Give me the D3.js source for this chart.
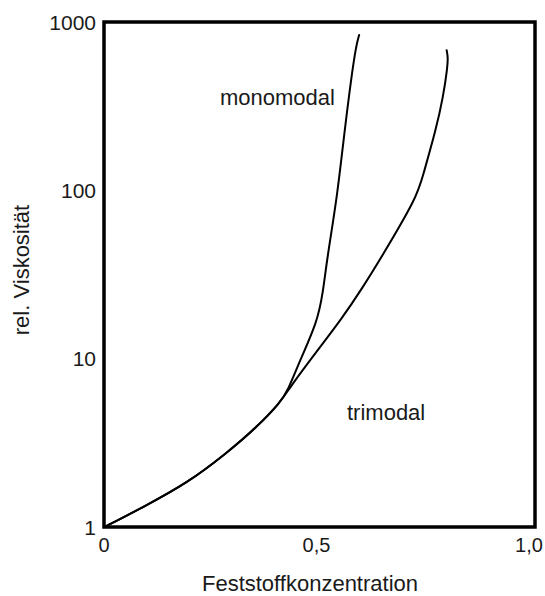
<!DOCTYPE html>
<html>
<head>
<meta charset="utf-8">
<script src="https://cdn.jsdelivr.net/npm/d3@7"></script>
<style>
  body { margin: 0; background: #fff; }
  text { font-family: "Liberation Sans", Arial, sans-serif; fill: #1a1a1a; }
</style>
</head>
<body>
<svg id="chart"></svg>
<script>
// Data (Feststoffkonzentration vs. rel. Viskosität)
const monomodalConc = [0, 0.021, 0.09, 0.193, 0.285, 0.355, 0.408, 0.427, 0.455, 0.494, 0.508, 0.517, 0.541, 0.557, 0.582, 0.592];
const monomodalVisc = [1, 1.06, 1.31, 1.82, 2.75, 3.93, 5.45, 6.5, 9.8, 16.3, 24.5, 38.6, 91, 215, 682, 837];
const trimodalConc = [0, 0.021, 0.09, 0.193, 0.285, 0.355, 0.408, 0.427, 0.478, 0.555, 0.601, 0.64, 0.726, 0.739, 0.77, 0.787, 0.797, 0.798, 0.795];
const trimodalVisc = [1, 1.06, 1.31, 1.82, 2.75, 3.93, 5.45, 6.5, 9.8, 17.7, 26.7, 38.6, 91, 120, 228, 360, 540, 620, 680];

const xTicks = [0, 0.5, 1.0];
const xTickLabels = ['0', '0,5', '1,0'];
const yTicks = [1, 10, 100, 1000];

const width = 545;
const height = 596;
const margin = { top: 22, right: 10, bottom: 69, left: 104 };

const svg = d3.select('#chart')
  .attr('width', width)
  .attr('height', height);

const x = d3.scaleLinear().domain([0, 1]).range([margin.left, width - margin.right]);
const y = d3.scaleLog().domain([1, 1000]).range([height - margin.bottom, margin.top]);

// frame
svg.append('rect')
  .attr('x', x(0))
  .attr('y', y(1000))
  .attr('width', x(1) - x(0))
  .attr('height', y(1) - y(1000))
  .attr('fill', 'none')
  .attr('stroke', '#000')
  .attr('stroke-width', 3.5);

// tick labels
svg.selectAll('.ytick')
  .data(yTicks)
  .join('text')
  .attr('class', 'ytick')
  .attr('x', x(0) - 8)
  .attr('y', (d) => y(d))
  .attr('dy', '0.36em')
  .attr('text-anchor', 'end')
  .style('font-size', '21px')
  .text((d) => d);

svg.selectAll('.xtick')
  .data(xTicks)
  .join('text')
  .attr('class', 'xtick')
  .attr('x', (d) => x(d) - (d === 0 ? 0 : d === 0.5 ? 3 : 6))
  .attr('y', 552)
  .attr('text-anchor', 'middle')
  .style('font-size', '20px')
  .text((d, i) => xTickLabels[i]);

// axis titles
svg.append('text')
  .attr('x', 310)
  .attr('y', 591)
  .attr('text-anchor', 'middle')
  .style('font-size', '22px')
  .text('Feststoffkonzentration');

svg.append('text')
  .attr('transform', 'translate(29, 270) rotate(-90)')
  .attr('text-anchor', 'middle')
  .style('font-size', '22px')
  .text('rel. Viskosität');

// curves, smoothed
const line = d3.line()
  .x((d) => x(d[0]))
  .y((d) => y(d[1]))
  .curve(d3.curveBasis);

const series = [
  d3.zip(monomodalConc, monomodalVisc),
  d3.zip(trimodalConc, trimodalVisc)
];

svg.selectAll('.curve')
  .data(series)
  .join('path')
  .attr('class', 'curve')
  .attr('d', line)
  .attr('fill', 'none')
  .attr('stroke', '#000')
  .attr('stroke-width', 2)
  .attr('stroke-linecap', 'round');

// curve labels
svg.append('text')
  .attr('x', 220)
  .attr('y', 105)
  .style('font-size', '22px')
  .text('monomodal');

svg.append('text')
  .attr('x', 347)
  .attr('y', 420)
  .style('font-size', '22px')
  .text('trimodal');
</script>
</body>
</html>
